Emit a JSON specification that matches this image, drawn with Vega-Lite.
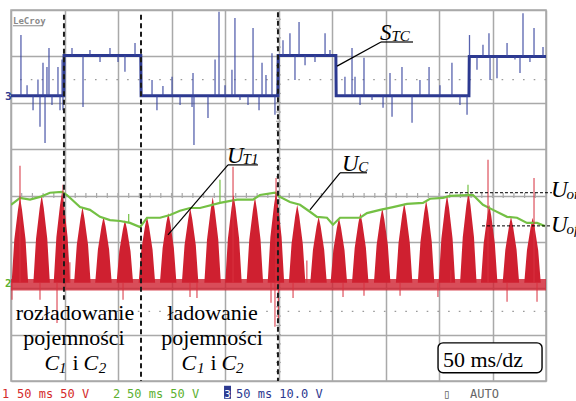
{
  "$schema": "https://vega.github.io/schema/vega-lite/v6.json",
  "width": 535,
  "height": 371,
  "autosize": {"type": "none"},
  "padding": {"left": 11, "top": 10, "right": 30, "bottom": 20},
  "background": "white",
  "config": {
    "view": {"stroke": "#a9a9a9", "strokeWidth": 1.5},
    "axis": {"domain": false, "ticks": false, "labels": false, "grid": true, "gridColor": "#a9a9a9", "gridWidth": 1.5, "gridOpacity": 1},
    "axisX": {"tickCount": 10},
    "axisY": {"tickCount": 8}
  },
  "datasets": {
    "xticks": [{"t":10},{"t":20},{"t":30},{"t":40},{"t":50},{"t":60},{"t":70},{"t":80},{"t":90},{"t":100},{"t":110},{"t":120},{"t":130},{"t":140},{"t":150},{"t":160},{"t":170},{"t":180},{"t":190},{"t":200},{"t":210},{"t":220},{"t":230},{"t":240},{"t":250},{"t":260},{"t":270},{"t":280},{"t":290},{"t":300},{"t":310},{"t":320},{"t":330},{"t":340},{"t":350},{"t":360},{"t":370},{"t":380},{"t":390},{"t":400},{"t":410},{"t":420},{"t":430},{"t":440},{"t":450},{"t":460},{"t":470},{"t":480},{"t":490}],
    "yticks": [{"v":0.2},{"v":0.4},{"v":0.6},{"v":0.8},{"v":1.0},{"v":1.2},{"v":1.4},{"v":1.6},{"v":1.8},{"v":2.0},{"v":2.2},{"v":2.4},{"v":2.6},{"v":2.8},{"v":3.0},{"v":3.2},{"v":3.4},{"v":3.6},{"v":3.8},{"v":4.0},{"v":4.2},{"v":4.4},{"v":4.6},{"v":4.8},{"v":5.0},{"v":5.2},{"v":5.4},{"v":5.6},{"v":5.8},{"v":6.0},{"v":6.2},{"v":6.4},{"v":6.6},{"v":6.8},{"v":7.0},{"v":7.2},{"v":7.4},{"v":7.6},{"v":7.8}],
    "ut1": [
      {"t":0.6,"v":2.12},{"t":3.1,"v":3.05},{"t":6.5,"v":3.69},{"t":8.4,"v":3.97},{"t":10.3,"v":3.69},{"t":13.6,"v":3.05},{"t":16.0,"v":2.12},
      {"t":20.9,"v":2.12},{"t":23.4,"v":3.07},{"t":26.8,"v":3.73},{"t":28.7,"v":4.01},{"t":30.6,"v":3.73},{"t":33.9,"v":3.07},{"t":36.3,"v":2.12},
      {"t":39.9,"v":2.12},{"t":42.4,"v":3.10},{"t":45.8,"v":3.79},{"t":47.7,"v":4.08},{"t":49.6,"v":3.79},{"t":52.9,"v":3.10},{"t":55.3,"v":2.12},
      {"t":59.0,"v":2.12},{"t":61.5,"v":2.94},{"t":64.9,"v":3.50},{"t":66.8,"v":3.75},{"t":68.7,"v":3.50},{"t":72.0,"v":2.94},{"t":74.4,"v":2.12},
      {"t":78.7,"v":2.12},{"t":81.2,"v":2.83},{"t":84.6,"v":3.33},{"t":86.5,"v":3.54},{"t":88.4,"v":3.33},{"t":91.7,"v":2.83},{"t":94.1,"v":2.12},
      {"t":98.7,"v":2.12},{"t":101.2,"v":2.80},{"t":104.6,"v":3.27},{"t":106.5,"v":3.47},{"t":108.4,"v":3.27},{"t":111.7,"v":2.80},{"t":114.1,"v":2.12},
      {"t":119.3,"v":2.12},{"t":121.8,"v":2.83},{"t":125.2,"v":3.33},{"t":127.1,"v":3.54},{"t":129.0,"v":3.33},{"t":132.3,"v":2.83},{"t":134.7,"v":2.12},
      {"t":139.2,"v":2.12},{"t":141.7,"v":2.87},{"t":145.1,"v":3.40},{"t":147.0,"v":3.62},{"t":148.9,"v":3.40},{"t":152.2,"v":2.87},{"t":154.6,"v":2.12},
      {"t":159.7,"v":2.12},{"t":162.2,"v":2.93},{"t":165.6,"v":3.49},{"t":167.5,"v":3.73},{"t":169.4,"v":3.49},{"t":172.7,"v":2.93},{"t":175.1,"v":2.12},
      {"t":180.7,"v":2.12},{"t":183.2,"v":3.05},{"t":186.6,"v":3.69},{"t":188.5,"v":3.97},{"t":190.4,"v":3.69},{"t":193.7,"v":3.05},{"t":196.1,"v":2.12},
      {"t":200.2,"v":2.12},{"t":202.7,"v":3.07},{"t":206.1,"v":3.73},{"t":208.0,"v":4.01},{"t":209.9,"v":3.73},{"t":213.2,"v":3.07},{"t":215.6,"v":2.12},
      {"t":220.2,"v":2.12},{"t":222.7,"v":3.05},{"t":226.1,"v":3.69},{"t":228.0,"v":3.97},{"t":229.9,"v":3.69},{"t":233.2,"v":3.05},{"t":235.6,"v":2.12},
      {"t":239.9,"v":2.12},{"t":242.4,"v":3.10},{"t":245.8,"v":3.79},{"t":247.7,"v":4.08},{"t":249.6,"v":3.79},{"t":252.9,"v":3.10},{"t":255.3,"v":2.12},
      {"t":259.7,"v":2.12},{"t":262.2,"v":2.96},{"t":265.6,"v":3.55},{"t":267.5,"v":3.80},{"t":269.4,"v":3.55},{"t":272.7,"v":2.96},{"t":275.1,"v":2.12},
      {"t":279.7,"v":2.12},{"t":282.2,"v":2.83},{"t":285.6,"v":3.33},{"t":287.5,"v":3.54},{"t":289.4,"v":3.33},{"t":292.7,"v":2.83},{"t":295.1,"v":2.12},
      {"t":298.7,"v":2.12},{"t":301.2,"v":2.82},{"t":304.6,"v":3.31},{"t":306.5,"v":3.52},{"t":308.4,"v":3.31},{"t":311.7,"v":2.82},{"t":314.1,"v":2.12},
      {"t":318.7,"v":2.12},{"t":321.2,"v":2.87},{"t":324.6,"v":3.40},{"t":326.5,"v":3.62},{"t":328.4,"v":3.40},{"t":331.7,"v":2.87},{"t":334.1,"v":2.12},
      {"t":339.2,"v":2.12},{"t":341.7,"v":2.93},{"t":345.1,"v":3.49},{"t":347.0,"v":3.73},{"t":348.9,"v":3.49},{"t":352.2,"v":2.93},{"t":354.6,"v":2.12},
      {"t":359.7,"v":2.12},{"t":362.2,"v":2.98},{"t":365.6,"v":3.58},{"t":367.5,"v":3.84},{"t":369.4,"v":3.58},{"t":372.7,"v":2.98},{"t":375.1,"v":2.12},
      {"t":380.2,"v":2.12},{"t":382.7,"v":3.01},{"t":386.1,"v":3.63},{"t":388.0,"v":3.90},{"t":389.9,"v":3.63},{"t":393.2,"v":3.01},{"t":395.6,"v":2.12},
      {"t":399.7,"v":2.12},{"t":402.2,"v":3.07},{"t":405.6,"v":3.73},{"t":407.5,"v":4.01},{"t":409.4,"v":3.73},{"t":412.7,"v":3.07},{"t":415.1,"v":2.12},
      {"t":419.7,"v":2.12},{"t":422.2,"v":3.10},{"t":425.6,"v":3.79},{"t":427.5,"v":4.08},{"t":429.4,"v":3.79},{"t":432.7,"v":3.10},{"t":435.1,"v":2.12},
      {"t":439.2,"v":2.12},{"t":441.7,"v":2.96},{"t":445.1,"v":3.55},{"t":447.0,"v":3.80},{"t":448.9,"v":3.55},{"t":452.2,"v":2.96},{"t":454.6,"v":2.12},
      {"t":459.5,"v":2.12},{"t":462.0,"v":2.83},{"t":465.4,"v":3.33},{"t":467.3,"v":3.54},{"t":469.2,"v":3.33},{"t":472.5,"v":2.83},{"t":474.9,"v":2.12},
      {"t":479.7,"v":2.12},{"t":482.2,"v":2.82},{"t":485.6,"v":3.31},{"t":487.5,"v":3.52},{"t":489.4,"v":3.31},{"t":492.7,"v":2.82},{"t":495.1,"v":2.12}
    ],
    "ut1Spikes": [
      {"t":8.4,"tip":4.64},{"t":48.6,"tip":4.23},{"t":207.5,"tip":4.62},{"t":247.7,"tip":4.38},{"t":445.8,"tip":4.77},{"t":488.8,"tip":4.38},
      {"t":55,"tip":2.56},{"t":411,"tip":2.39},{"t":276.5,"tip":2.6},
      {"t":0.9,"tip":1.75},{"t":27.1,"tip":1.75},{"t":43,"tip":1.25},{"t":104.7,"tip":1.75},{"t":167.3,"tip":1.81},{"t":173.8,"tip":1.79},
      {"t":243,"tip":1.69},{"t":246.7,"tip":1.17},{"t":249.9,"tip":1.32},{"t":263.6,"tip":1.79},{"t":310.3,"tip":1.81},{"t":329.9,"tip":1.84},
      {"t":363.6,"tip":1.84},{"t":399.0,"tip":1.81},{"t":463.6,"tip":1.71},{"t":491.6,"tip":1.71}
    ],
    "uc": [
      {"t":0,"v":3.80},{"t":8.4,"v":3.95},{"t":17.8,"v":3.91},{"t":27.1,"v":3.97},{"t":36.4,"v":4.06},{"t":47.7,"v":4.08},
      {"t":52.3,"v":4.01},{"t":64.5,"v":3.75},{"t":73.8,"v":3.69},{"t":83.2,"v":3.54},{"t":92.5,"v":3.47},{"t":101.9,"v":3.45},
      {"t":111.2,"v":3.41},{"t":120.6,"v":3.32},{"t":127.1,"v":3.52},{"t":139.3,"v":3.52},{"t":148.6,"v":3.58},{"t":157.9,"v":3.67},
      {"t":167.3,"v":3.73},{"t":176.6,"v":3.73},{"t":195.3,"v":3.84},{"t":211.2,"v":3.91},{"t":226.2,"v":3.91},{"t":232.7,"v":4.01},
      {"t":246.7,"v":4.06},{"t":251.4,"v":3.97},{"t":260.7,"v":3.86},{"t":270.1,"v":3.80},{"t":279.4,"v":3.65},{"t":286.0,"v":3.54},
      {"t":295.3,"v":3.52},{"t":300.9,"v":3.37},{"t":307.5,"v":3.52},{"t":326.2,"v":3.52},{"t":332.7,"v":3.62},{"t":344.9,"v":3.69},
      {"t":357.0,"v":3.75},{"t":370.1,"v":3.82},{"t":385.0,"v":3.84},{"t":391.6,"v":3.93},{"t":403.7,"v":3.95},{"t":410.3,"v":3.99},
      {"t":426.2,"v":4.01},{"t":431.8,"v":4.01},{"t":441.1,"v":3.80},{"t":450.5,"v":3.69},{"t":463.6,"v":3.54},{"t":472.9,"v":3.52},
      {"t":482.2,"v":3.41},{"t":491.6,"v":3.41},{"t":499.0,"v":3.34}
    ],
    "ucSpikes": [{"t":195.3,"lo":3.84,"hi":4.34},{"t":427.1,"lo":4.01,"hi":4.23},{"t":110,"lo":3.41,"hi":3.6}],
    "stc": [
      {"t":0,"v":6.15},{"t":49.3,"v":6.15},{"t":49.6,"v":7.02},{"t":121.3,"v":7.02},{"t":121.6,"v":6.15},
      {"t":249.4,"v":6.15},{"t":249.7,"v":7.02},{"t":303.6,"v":7.02},{"t":303.9,"v":6.15},
      {"t":428.0,"v":6.15},{"t":428.3,"v":7.0},{"t":500,"v":7.0}
    ],
    "stcSpikes": [
      {"t":9.3,"base":6.15,"tip":7.46},{"t":15.0,"base":6.15,"tip":6.38},{"t":20.6,"base":6.15,"tip":5.84},{"t":25.2,"base":6.15,"tip":6.5},
      {"t":27.1,"base":6.15,"tip":5.48},{"t":29.9,"base":6.15,"tip":6.86},{"t":31.8,"base":6.15,"tip":5.13},{"t":33.6,"base":6.15,"tip":6.77},
      {"t":35.5,"base":6.15,"tip":7.18},{"t":38.3,"base":6.15,"tip":5.95},{"t":43.9,"base":6.15,"tip":6.77},{"t":45.8,"base":6.15,"tip":5.84},
      {"t":47.7,"base":6.15,"tip":6.93},{"t":48.6,"base":6.15,"tip":5.84},
      {"t":57.0,"base":7.02,"tip":7.18},{"t":67.3,"base":7.02,"tip":5.91},{"t":73.8,"base":7.02,"tip":7.14},{"t":83.2,"base":7.02,"tip":6.88},
      {"t":92.5,"base":7.02,"tip":7.18},{"t":100.0,"base":7.02,"tip":6.88},{"t":106.5,"base":7.02,"tip":6.67},{"t":115.9,"base":7.02,"tip":7.29},
      {"t":131.8,"base":6.15,"tip":6.49},{"t":136.4,"base":6.15,"tip":5.84},{"t":142.0,"base":6.15,"tip":6.36},{"t":150.5,"base":6.15,"tip":6.56},
      {"t":158.0,"base":6.15,"tip":5.95},{"t":169.2,"base":6.15,"tip":5.91},{"t":170.1,"base":6.15,"tip":6.64},{"t":171.0,"base":6.15,"tip":5.09},
      {"t":184.1,"base":6.15,"tip":5.67},{"t":190.7,"base":6.15,"tip":6.93},{"t":194.4,"base":6.15,"tip":7.96},{"t":200.0,"base":6.15,"tip":6.38},
      {"t":206.5,"base":6.15,"tip":6.71},{"t":209.3,"base":6.15,"tip":7.83},{"t":214.0,"base":6.15,"tip":6.06},{"t":221.5,"base":6.15,"tip":5.95},
      {"t":226.2,"base":6.15,"tip":7.61},{"t":231.8,"base":6.15,"tip":5.84},{"t":234.6,"base":6.15,"tip":6.86},{"t":238.3,"base":6.15,"tip":6.6},
      {"t":243.9,"base":6.15,"tip":7.07},{"t":246.7,"base":6.15,"tip":5.74},
      {"t":254.2,"base":7.02,"tip":7.35},{"t":260.7,"base":7.02,"tip":7.5},{"t":265.4,"base":7.02,"tip":6.49},{"t":269.2,"base":7.02,"tip":7.74},
      {"t":274.8,"base":7.02,"tip":6.81},{"t":284.1,"base":7.02,"tip":6.88},{"t":293.5,"base":7.02,"tip":7.5},{"t":298.1,"base":7.02,"tip":7.14},
      {"t":312.1,"base":6.15,"tip":6.56},{"t":318.7,"base":6.15,"tip":7.18},{"t":321.5,"base":6.15,"tip":6.56},{"t":326.2,"base":6.15,"tip":5.95},
      {"t":329.9,"base":6.15,"tip":6.97},{"t":337.4,"base":6.15,"tip":6.06},{"t":347.7,"base":6.15,"tip":5.89},{"t":354.2,"base":6.15,"tip":6.64},
      {"t":356.1,"base":6.15,"tip":5.7},{"t":365.4,"base":6.15,"tip":6.77},{"t":374.8,"base":6.15,"tip":5.57},{"t":382.2,"base":6.15,"tip":6.49},
      {"t":390.7,"base":6.15,"tip":6.77},{"t":400.9,"base":6.15,"tip":6.38},{"t":412.1,"base":6.15,"tip":6.86},{"t":419.6,"base":6.15,"tip":5.95},
      {"t":426.2,"base":6.15,"tip":5.74},
      {"t":428.5,"base":7.0,"tip":7.46},{"t":435.5,"base":7.0,"tip":6.71},{"t":441.1,"base":7.0,"tip":7.25},{"t":446.7,"base":7.0,"tip":7.5},
      {"t":447.7,"base":7.0,"tip":6.49},{"t":454.2,"base":7.0,"tip":6.53},{"t":463.6,"base":7.0,"tip":7.29},{"t":471.0,"base":7.0,"tip":6.93},
      {"t":475.7,"base":7.0,"tip":6.64},{"t":478.5,"base":7.0,"tip":7.93},{"t":485.0,"base":7.0,"tip":6.88},{"t":488.8,"base":7.0,"tip":7.61},
      {"t":497.2,"base":7.0,"tip":7.2}
    ],
    "markers": [{"t":49.5,"top":7.9,"bottom":1.75},{"t":121.5,"top":7.9,"bottom":0},{"t":249.5,"top":7.95,"bottom":0}],
    "leaders": [
      {"x1":304.7,"y1":6.79,"x2":345.8,"y2":7.31},{"x1":345.8,"y1":7.31,"x2":375.7,"y2":7.31},
      {"x1":146.7,"y1":3.15,"x2":202.8,"y2":4.66},{"x1":202.8,"y1":4.66,"x2":230.8,"y2":4.66},
      {"x1":279.4,"y1":3.69,"x2":307.5,"y2":4.49},{"x1":307.5,"y1":4.49,"x2":332.7,"y2":4.49}
    ],
    "levels": [{"x1":405.6,"y1":4.06,"x2":505.6,"y2":4.06},{"x1":440.2,"y1":3.345,"x2":505.6,"y2":3.345}]
  },
  "layer": [
    {
      "data": {"values": [{"v": 6.5}, {"v": 1.5}]},
      "mark": {"type": "rule", "color": "#9a9a9a", "strokeWidth": 1.3, "strokeDash": [1.6, 9.1]},
      "encoding": {"y": {"field": "v", "type": "quantitative", "scale": {"domain": [0, 8], "nice": false}, "title": null}}
    },
    {
      "data": {"name": "xticks"},
      "mark": {"type": "rule", "color": "#a9a9a9", "strokeWidth": 1.2},
      "encoding": {
        "x": {"field": "t", "type": "quantitative", "scale": {"domain": [0, 500], "nice": false}, "title": null},
        "y": {"datum": 3.946, "type": "quantitative"},
        "y2": {"datum": 4.054}
      }
    },
    {
      "data": {"name": "yticks"},
      "mark": {"type": "rule", "color": "#a9a9a9", "strokeWidth": 1.2},
      "encoding": {
        "y": {"field": "v", "type": "quantitative", "scale": {"domain": [0, 8], "nice": false}, "title": null},
        "x": {"datum": 247.7, "type": "quantitative"},
        "x2": {"datum": 252.3}
      }
    },
    {
      "data": {"values": [{}]},
      "mark": {"type": "rect", "color": "#cf2030", "opacity": 0.8},
      "encoding": {
        "x": {"datum": 0, "type": "quantitative"},
        "x2": {"datum": 500},
        "y": {"datum": 1.95, "type": "quantitative"},
        "y2": {"datum": 2.2}
      }
    },
    {
      "data": {"name": "ut1"},
      "mark": {"type": "area", "color": "#cf2030", "clip": true, "interpolate": "linear"},
      "encoding": {
        "x": {"field": "t", "type": "quantitative", "scale": {"domain": [0, 500], "nice": false}, "title": null},
        "y": {"field": "v", "type": "quantitative", "scale": {"domain": [0, 8], "nice": false}, "title": null},
        "y2": {"datum": 2.12}
      }
    },
    {
      "data": {"name": "uc"},
      "mark": {"type": "line", "color": "#74c044", "strokeWidth": 2.2, "clip": true},
      "encoding": {
        "x": {"field": "t", "type": "quantitative", "title": null},
        "y": {"field": "v", "type": "quantitative", "title": null}
      }
    },
    {
      "data": {"name": "ucSpikes"},
      "mark": {"type": "rule", "color": "#74c044", "strokeWidth": 1.2},
      "encoding": {
        "x": {"field": "t", "type": "quantitative", "title": null},
        "y": {"field": "lo", "type": "quantitative", "title": null},
        "y2": {"field": "hi"}
      }
    },
    {
      "data": {"name": "ut1Spikes"},
      "mark": {"type": "rule", "color": "#d8313f", "strokeWidth": 1.2, "opacity": 0.85},
      "encoding": {
        "x": {"field": "t", "type": "quantitative", "title": null},
        "y": {"field": "tip", "type": "quantitative", "title": null},
        "y2": {"datum": 2.12}
      }
    },
    {
      "data": {"name": "stc"},
      "mark": {"type": "line", "color": "#2c3990", "strokeWidth": 3, "clip": true},
      "encoding": {
        "x": {"field": "t", "type": "quantitative", "title": null},
        "y": {"field": "v", "type": "quantitative", "title": null}
      }
    },
    {
      "data": {"name": "stcSpikes"},
      "mark": {"type": "rule", "color": "#3a46a0", "strokeWidth": 1.3, "opacity": 0.85},
      "encoding": {
        "x": {"field": "t", "type": "quantitative", "title": null},
        "y": {"field": "base", "type": "quantitative", "title": null},
        "y2": {"field": "tip"}
      }
    },
    {
      "data": {"name": "markers"},
      "mark": {"type": "rule", "color": "#1a1a1a", "strokeWidth": 2, "strokeDash": [5, 3.5]},
      "encoding": {
        "x": {"field": "t", "type": "quantitative", "title": null},
        "y": {"field": "top", "type": "quantitative", "title": null},
        "y2": {"field": "bottom"}
      }
    },
    {
      "data": {"name": "leaders"},
      "mark": {"type": "rule", "color": "black", "strokeWidth": 1.2},
      "encoding": {
        "x": {"field": "x1", "type": "quantitative", "title": null},
        "x2": {"field": "x2"},
        "y": {"field": "y1", "type": "quantitative", "title": null},
        "y2": {"field": "y2"}
      }
    },
    {
      "data": {"name": "levels"},
      "mark": {"type": "rule", "color": "black", "strokeWidth": 1, "strokeDash": [3, 2]},
      "encoding": {
        "x": {"field": "x1", "type": "quantitative", "title": null},
        "x2": {"field": "x2"},
        "y": {"field": "y1", "type": "quantitative", "title": null},
        "y2": {"field": "y2"}
      }
    },
    {
      "data": {"values": [
        {"s": "S", "t": 344.9, "v": 7.35},
        {"s": "U", "t": 201.9, "v": 4.70},
        {"s": "U", "t": 309.3, "v": 4.53},
        {"s": "U", "t": 504.7, "v": 3.97},
        {"s": "U", "t": 504.7, "v": 3.22}
      ]},
      "mark": {"type": "text", "font": "Liberation Serif", "fontStyle": "italic", "fontSize": 23, "align": "left", "baseline": "alphabetic", "color": "black"},
      "encoding": {
        "x": {"field": "t", "type": "quantitative", "title": null},
        "y": {"field": "v", "type": "quantitative", "title": null},
        "text": {"field": "s"}
      }
    },
    {
      "data": {"values": [
        {"s": "TC", "t": 355.6, "v": 7.33},
        {"s": "T1", "t": 216.4, "v": 4.68},
        {"s": "C", "t": 324.5, "v": 4.51},
        {"s": "on", "t": 519.2, "v": 3.93},
        {"s": "off", "t": 519.2, "v": 3.16}
      ]},
      "mark": {"type": "text", "font": "Liberation Serif", "fontStyle": "italic", "fontSize": 15, "align": "left", "baseline": "alphabetic", "color": "black"},
      "encoding": {
        "x": {"field": "t", "type": "quantitative", "title": null},
        "y": {"field": "v", "type": "quantitative", "title": null},
        "text": {"field": "s"}
      }
    },
    {
      "data": {"values": [
        {"s": "rozładowanie", "t": 59.8, "v": 1.32},
        {"s": "pojemności", "t": 58.9, "v": 0.78},
        {"s": "ładowanie", "t": 188.3, "v": 1.32},
        {"s": "pojemności", "t": 187.9, "v": 0.78}
      ]},
      "mark": {"type": "text", "font": "Liberation Serif", "fontSize": 22, "align": "center", "baseline": "alphabetic", "color": "black"},
      "encoding": {
        "x": {"field": "t", "type": "quantitative", "title": null},
        "y": {"field": "v", "type": "quantitative", "title": null},
        "text": {"field": "s"}
      }
    },
    {
      "data": {"values": [
        {"s": "i", "t": 57.4, "v": 0.24},
        {"s": "i", "t": 186.4, "v": 0.24}
      ]},
      "mark": {"type": "text", "font": "Liberation Serif", "fontSize": 22, "align": "left", "baseline": "alphabetic", "color": "black"},
      "encoding": {
        "x": {"field": "t", "type": "quantitative", "title": null},
        "y": {"field": "v", "type": "quantitative", "title": null},
        "text": {"field": "s"}
      }
    },
    {
      "data": {"values": [
        {"s": "C", "t": 31.3, "v": 0.24},
        {"s": "C", "t": 67.8, "v": 0.24},
        {"s": "C", "t": 159.3, "v": 0.24},
        {"s": "C", "t": 196.8, "v": 0.24}
      ]},
      "mark": {"type": "text", "font": "Liberation Serif", "fontStyle": "italic", "fontSize": 22, "align": "left", "baseline": "alphabetic", "color": "black"},
      "encoding": {
        "x": {"field": "t", "type": "quantitative", "title": null},
        "y": {"field": "v", "type": "quantitative", "title": null},
        "text": {"field": "s"}
      }
    },
    {
      "data": {"values": [
        {"s": "1", "t": 44.9, "v": 0.18},
        {"s": "2", "t": 82.0, "v": 0.18},
        {"s": "1", "t": 173.8, "v": 0.18},
        {"s": "2", "t": 210.2, "v": 0.18}
      ]},
      "mark": {"type": "text", "font": "Liberation Serif", "fontStyle": "italic", "fontSize": 15, "align": "left", "baseline": "alphabetic", "color": "black"},
      "encoding": {
        "x": {"field": "t", "type": "quantitative", "title": null},
        "y": {"field": "v", "type": "quantitative", "title": null},
        "text": {"field": "s"}
      }
    },
    {
      "data": {"values": [{}]},
      "mark": {"type": "rect", "fill": "white", "stroke": "black", "strokeWidth": 1.4, "cornerRadius": 5},
      "encoding": {
        "x": {"datum": 399.1, "type": "quantitative"},
        "x2": {"datum": 496.3},
        "y": {"datum": 0.177, "type": "quantitative"},
        "y2": {"datum": 0.823}
      }
    },
    {
      "data": {"values": [{"s": "50 ms/dz", "t": 403.7, "v": 0.306}]},
      "mark": {"type": "text", "font": "Liberation Serif", "fontSize": 22, "align": "left", "baseline": "alphabetic", "color": "black"},
      "encoding": {
        "x": {"field": "t", "type": "quantitative", "title": null},
        "y": {"field": "v", "type": "quantitative", "title": null},
        "text": {"field": "s"}
      }
    },
    {
      "data": {"values": [{"s": "1", "t": -8.4, "v": -0.362}, {"s": "50 ms 50 V", "t": 5.6, "v": -0.362}]},
      "mark": {"type": "text", "font": "DejaVu Sans Mono", "fontSize": 12, "align": "left", "baseline": "alphabetic", "color": "#d42a2a"},
      "encoding": {
        "x": {"field": "t", "type": "quantitative", "title": null},
        "y": {"field": "v", "type": "quantitative", "title": null},
        "text": {"field": "s"}
      }
    },
    {
      "data": {"values": [{"s": "2", "t": 95.3, "v": -0.362}, {"s": "50 ms 50 V", "t": 108.4, "v": -0.362}]},
      "mark": {"type": "text", "font": "DejaVu Sans Mono", "fontSize": 12, "align": "left", "baseline": "alphabetic", "color": "#5cb030"},
      "encoding": {
        "x": {"field": "t", "type": "quantitative", "title": null},
        "y": {"field": "v", "type": "quantitative", "title": null},
        "text": {"field": "s"}
      }
    },
    {
      "data": {"values": [{}]},
      "mark": {"type": "rect", "fill": "#2c3990"},
      "encoding": {
        "x": {"datum": 199.1, "type": "quantitative"},
        "x2": {"datum": 205.6},
        "y": {"datum": -0.103, "type": "quantitative"},
        "y2": {"datum": -0.384}
      }
    },
    {
      "data": {"values": [{"s": "3", "t": 202.3, "v": -0.362}]},
      "mark": {"type": "text", "font": "DejaVu Sans Mono", "fontSize": 11, "align": "center", "baseline": "alphabetic", "color": "white"},
      "encoding": {
        "x": {"field": "t", "type": "quantitative", "title": null},
        "y": {"field": "v", "type": "quantitative", "title": null},
        "text": {"field": "s"}
      }
    },
    {
      "data": {"values": [{"s": "50 ms 10.0 V", "t": 210.3, "v": -0.362}]},
      "mark": {"type": "text", "font": "DejaVu Sans Mono", "fontSize": 12, "align": "left", "baseline": "alphabetic", "color": "#2c3990"},
      "encoding": {
        "x": {"field": "t", "type": "quantitative", "title": null},
        "y": {"field": "v", "type": "quantitative", "title": null},
        "text": {"field": "s"}
      }
    },
    {
      "data": {"values": [{"s": "▯", "t": 403.7, "v": -0.362}, {"s": "AUTO", "t": 429.0, "v": -0.362}]},
      "mark": {"type": "text", "font": "DejaVu Sans Mono", "fontSize": 12, "align": "left", "baseline": "alphabetic", "color": "#666666"},
      "encoding": {
        "x": {"field": "t", "type": "quantitative", "title": null},
        "y": {"field": "v", "type": "quantitative", "title": null},
        "text": {"field": "s"}
      }
    },
    {
      "data": {"values": [{"s": "LeCroy", "t": 1.9, "v": 7.70}]},
      "mark": {"type": "text", "font": "DejaVu Sans Mono", "fontSize": 9, "fontWeight": "bold", "align": "left", "baseline": "alphabetic", "color": "#8a8a8a"},
      "encoding": {
        "x": {"field": "t", "type": "quantitative", "title": null},
        "y": {"field": "v", "type": "quantitative", "title": null},
        "text": {"field": "s"}
      }
    },
    {
      "data": {"values": [{"a": 1.9, "b": 29.9, "v": 7.66}]},
      "mark": {"type": "rule", "color": "#8a8a8a", "strokeWidth": 1},
      "encoding": {
        "x": {"field": "a", "type": "quantitative", "title": null},
        "x2": {"field": "b"},
        "y": {"field": "v", "type": "quantitative", "title": null}
      }
    },
    {
      "data": {"values": [{"s": "3", "t": -5.6, "v": 6.06}]},
      "mark": {"type": "text", "font": "DejaVu Sans Mono", "fontSize": 11, "fontWeight": "bold", "align": "left", "baseline": "alphabetic", "color": "#2c3990"},
      "encoding": {
        "x": {"field": "t", "type": "quantitative", "title": null},
        "y": {"field": "v", "type": "quantitative", "title": null},
        "text": {"field": "s"}
      }
    },
    {
      "data": {"values": [{"s": "2", "t": -5.6, "v": 2.03}]},
      "mark": {"type": "text", "font": "DejaVu Sans Mono", "fontSize": 11, "fontWeight": "bold", "align": "left", "baseline": "alphabetic", "color": "#5cb030"},
      "encoding": {
        "x": {"field": "t", "type": "quantitative", "title": null},
        "y": {"field": "v", "type": "quantitative", "title": null},
        "text": {"field": "s"}
      }
    }
  ]
}
